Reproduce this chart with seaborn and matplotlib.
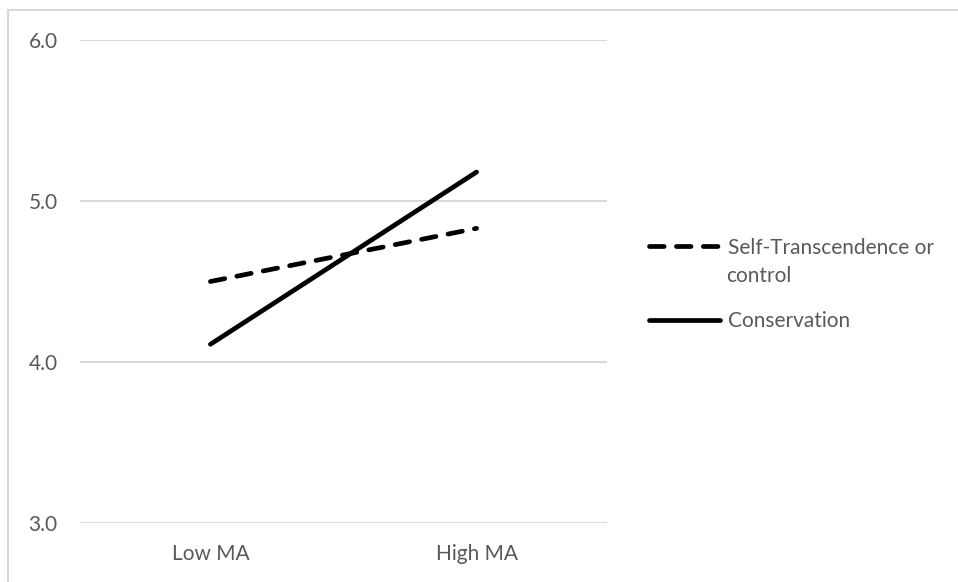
"""Interaction plot: MA level by value priming condition."""

import matplotlib

matplotlib.use("Agg")

import matplotlib.pyplot as plt
import pandas as pd
import seaborn as sns
from matplotlib.lines import Line2D

categories = ["Low MA", "High MA"]
groups = ["Self-Transcendence or", "Conservation"]
group_label_tail = "control"  # second line of the first legend label
self_transcendence = [4.50, 4.83]
conservation = [4.11, 5.18]
y_ticks = [3.0, 4.0, 5.0, 6.0]

TEXT = "#595959"
GRID = "#d9d9d9"
FS = 15

rows = []
for label, values in zip(groups, [self_transcendence, conservation]):
    for pos, (cat, val) in enumerate(zip(categories, values)):
        rows.append({"pos": pos, "category": cat, "group": label, "score": val})
df = pd.DataFrame(rows)

sns.set_theme(style="white")
plt.rcParams["font.family"] = ["Lato", "DejaVu Sans"]
plt.rcParams["lines.dash_capstyle"] = "round"
plt.rcParams["lines.solid_capstyle"] = "round"

fig = plt.figure(figsize=(9.58, 5.82), dpi=100)
ax = fig.add_axes([80 / 958, 1 - 523 / 582, 527 / 958, 483 / 582])

sns.lineplot(
    data=df,
    x="pos",
    y="score",
    style="group",
    style_order=groups,
    dashes={groups[0]: (3.1, 2.6), groups[1]: ""},
    color="black",
    linewidth=3.4,
    markers=False,
    ax=ax,
)

ax.set_xlim(-0.49, 1.49)
ax.set_ylim(3.0, 6.0)
ax.set_xticks(range(len(categories)))
ax.set_xticklabels(categories)
ax.set_yticks(y_ticks)
ax.set_yticklabels([f"{t:.1f}" for t in y_ticks])
ax.set_xlabel("")
ax.set_ylabel("")
for t in y_ticks:
    ax.axhline(t, color=GRID, linewidth=1.5, zorder=0)
for spine in ax.spines.values():
    spine.set_visible(False)
ax.tick_params(axis="both", length=0, labelsize=FS, colors=TEXT)
ax.tick_params(axis="y", pad=16)
ax.tick_params(axis="x", pad=15)

handles, labels = ax.get_legend_handles_labels()
ax.legend(
    handles,
    labels,
    loc="upper left",
    bbox_to_anchor=(630 / 958, 1 - 219 / 582),
    bbox_transform=fig.transFigure,
    frameon=False,
    fontsize=FS,
    labelcolor=TEXT,
    handlelength=3.4,
    handletextpad=0.4,
    labelspacing=2.55,
)
fig.text(726 / 958, 1 - 276 / 582, group_label_tail, ha="left", va="center",
         fontsize=FS, color=TEXT)

# light frame around the chart area (left and top edges visible)
fig.add_artist(Line2D([8 / 958, 8 / 958], [0, 1 - 10 / 582],
                      transform=fig.transFigure, color=GRID, linewidth=1.5))
fig.add_artist(Line2D([8 / 958, 1], [1 - 10 / 582, 1 - 10 / 582],
                      transform=fig.transFigure, color=GRID, linewidth=1.5))

fig.savefig("out.png", dpi=100)
